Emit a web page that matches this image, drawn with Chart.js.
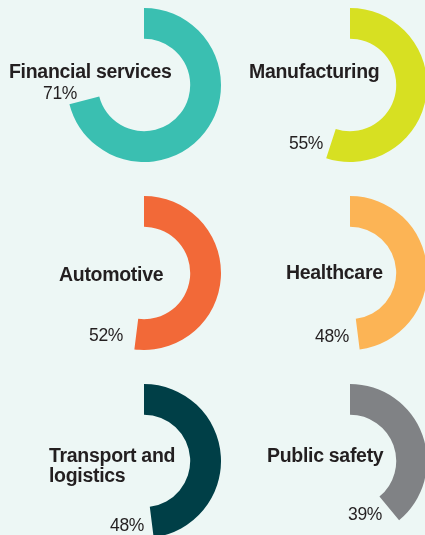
<!DOCTYPE html>
<html>
<head>
<meta charset="utf-8">
<script src="https://cdn.jsdelivr.net/npm/chart.js@4"></script>
<style>
  html, body { margin: 0; padding: 0; }
  body { width: 425px; height: 535px; overflow: hidden; background: #edf7f5; position: relative;
         font-family: "Liberation Sans", Arial, sans-serif; color: #231f20; }
  canvas { position: absolute; }
  .name { position: absolute; font-weight: bold; font-size: 19.5px; letter-spacing: -0.3px; line-height: 20px; white-space: nowrap; }
  .pct { position: absolute; font-size: 17.5px; letter-spacing: -0.3px; line-height: 17px; white-space: nowrap; }
</style>
</head>
<body>
<script>
// data
const categories = ['Financial services', 'Manufacturing', 'Automotive', 'Healthcare', 'Transport and\nlogistics', 'Public safety'];
const values = [71, 55, 52, 48, 48, 39];
const colors = ['#3abfb1', '#d7e022', '#f26938', '#fcb455', '#003f47', '#808285'];

// layout: donut centre, name label and percent label (left, top)
const centres = [[144, 85], [350, 85], [144, 273], [350, 273], [144, 461], [350, 461]];
const namePos = [[9, 61], [249, 61], [59, 264], [286, 262], [49, 445], [267, 445]];
const pctPos = [[43, 85], [289, 135], [89, 327], [315, 328], [110, 517], [348, 506]];
const R = 77;

categories.forEach((cat, i) => {
    const cv = document.createElement('canvas');
    cv.width = R * 2;
    cv.height = R * 2;
    cv.style.left = (centres[i][0] - R) + 'px';
    cv.style.top = (centres[i][1] - R) + 'px';
    document.body.appendChild(cv);

    new Chart(cv.getContext('2d'), {
        type: 'doughnut',
        data: {
            labels: [cat, ''],
            datasets: [{
                data: [values[i], 100 - values[i]],
                backgroundColor: [colors[i], 'rgba(0,0,0,0)'],
                borderWidth: 0
            }]
        },
        options: {
            responsive: false,
            animation: false,
            cutout: '60%',
            layout: { padding: 0 },
            plugins: { legend: { display: false }, tooltip: { enabled: false } },
            events: []
        }
    });

    const nm = document.createElement('div');
    nm.className = 'name';
    nm.innerHTML = cat.replace('\n', '<br>');
    nm.style.left = namePos[i][0] + 'px';
    nm.style.top = namePos[i][1] + 'px';
    document.body.appendChild(nm);

    const pc = document.createElement('div');
    pc.className = 'pct';
    pc.textContent = values[i] + '%';
    pc.style.left = pctPos[i][0] + 'px';
    pc.style.top = pctPos[i][1] + 'px';
    document.body.appendChild(pc);
});
</script>
</body>
</html>
